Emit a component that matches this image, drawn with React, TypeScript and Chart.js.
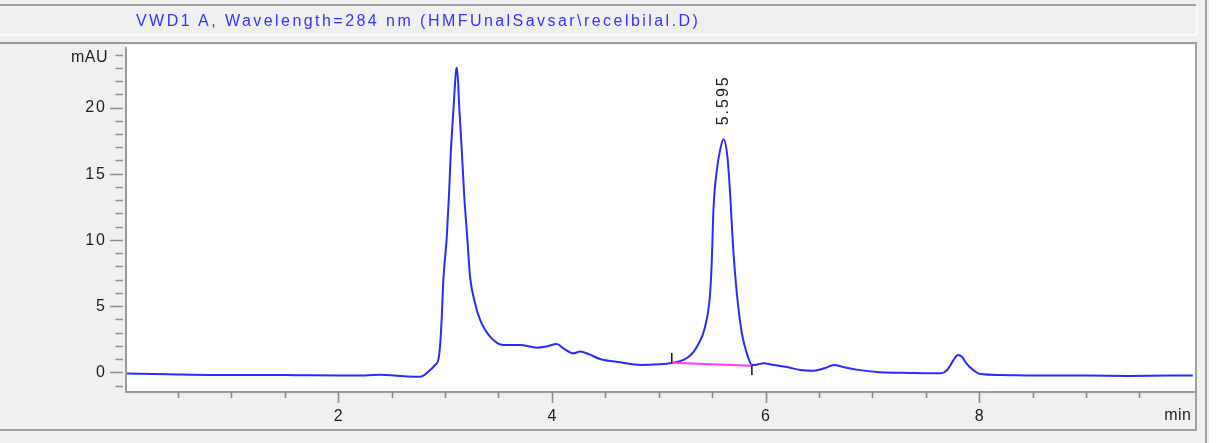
import React, { useEffect, useRef } from "react";
import { Chart, registerables } from "chart.js";

Chart.register(...registerables);

const W = 1227;
const H = 443;

const TITLE = "VWD1 A, Wavelength=284 nm (HMFUnalSavsar\\recelbilal.D)";
const X_UNIT = "min";
const Y_UNIT = "mAU";

// Chromatogram trace (retention time in min, signal in mAU)
const timeMin = [
  0.02, 0.4, 0.8, 1.2, 1.6, 2.0, 2.25, 2.4, 2.55, 2.7,
  2.77, 2.86, 2.906, 2.937, 2.955, 2.969, 2.984, 3.016, 3.037, 3.053, 3.078,
  3.103, 3.112, 3.134, 3.156, 3.178, 3.209, 3.234, 3.281, 3.328, 3.421,
  3.546, 3.7, 3.86, 3.95, 4.046, 4.108, 4.2, 4.264, 4.35, 4.45,
  4.64, 4.83, 5.0, 5.122, 5.231, 5.3, 5.357, 5.434, 5.481, 5.497,
  5.512, 5.544, 5.575, 5.606, 5.643, 5.668, 5.694, 5.731, 5.778, 5.825,
  5.872, 5.93, 5.98, 6.074, 6.2, 6.324, 6.45, 6.55, 6.64, 6.73,
  6.85, 7.07, 7.35, 7.64, 7.7, 7.76, 7.8, 7.84, 7.88, 7.94,
  8.01, 8.2, 8.63, 9.0, 9.4, 9.8, 10.0,
];
const signalMAU = [
  -0.1, -0.15, -0.2, -0.2, -0.22, -0.25, -0.25, -0.18, -0.27, -0.33,
  -0.33, 0.17, 0.55, 0.95, 2.2, 4.2, 7.0, 10.24, 13.5, 16.5, 19.8,
  22.8, 23.0, 19.8, 16.8, 13.5, 10.0, 7.2, 5.2, 3.95, 2.69,
  2.06, 2.06, 1.86, 1.95, 2.14, 1.81, 1.43, 1.56, 1.35, 1.0,
  0.75, 0.55, 0.6, 0.7, 0.93, 1.3, 1.93, 3.44, 5.97, 8.48,
  12.26, 15.28, 16.8, 17.6, 16.28, 13.52, 9.74, 5.97, 2.95, 1.43,
  0.55, 0.6, 0.68, 0.55, 0.4, 0.17, 0.12, 0.3, 0.55, 0.4,
  0.2, 0.0, -0.05, -0.08, 0.17, 0.93, 1.3, 1.15, 0.68, 0.2,
  -0.13, -0.2, -0.25, -0.25, -0.28, -0.25, -0.25,
];

// Integration baseline of the 5.595 peak
const baselineTime = [5.122, 5.872];
const baselineMAU = [0.72, 0.5];
const startTickTime = [5.122, 5.122];
const startTickMAU = [0.72, 1.45];
const endTickTime = [5.872, 5.872];
const endTickMAU = [0.5, -0.2];

// Peak annotation
const peakLabel = "5.595";
const peakLabelTime = 5.595;
const peakLabelMAU = 17.6;

// Axis ranges and ticks
const xRange = [0.013, 10.02];
const yRange = [-1.49, 24.57];
const xMajorTicks = [2, 4, 6, 8];
const xMinorTicks = [0.5, 1, 1.5, 2.5, 3, 3.5, 4.5, 5, 5.5, 6.5, 7, 7.5, 8.5, 9, 9.5];
const yMajorTicks = [0, 5, 10, 15, 20];
const yMinorTicks = [-1, 1, 2, 3, 4, 6, 7, 8, 9, 11, 12, 13, 14, 16, 17, 18, 19, 21, 22, 23, 24];

const pts = (xs: number[], ys: number[]) => xs.map((x, i) => ({ x, y: ys[i] }));

const FONT = '16px "Liberation Sans", Arial, sans-serif';

const framePlugin = {
  id: "frame",
  beforeDraw(chart: any) {
    const ctx = chart.ctx as CanvasRenderingContext2D;
    const { left, right, bottom } = chart.chartArea;
    ctx.save();
    ctx.fillStyle = "#f0f0f0";
    ctx.fillRect(0, 0, W, H);
    // right window edge
    ctx.fillStyle = "#ffffff";
    ctx.fillRect(1209, 0, W - 1209, H);
    ctx.fillStyle = "#a3a3a3";
    ctx.fillRect(1205, 0, 2, H);
    // header band
    ctx.fillStyle = "#efefef";
    ctx.fillRect(0, 6, 1196, 36);
    ctx.fillStyle = "#a0a0a0";
    ctx.fillRect(0, 4, 1196, 2);
    ctx.fillStyle = "#ffffff";
    ctx.fillRect(0, 34, 1197, 1.5);
    ctx.fillRect(1196, 6, 1.5, 29);
    ctx.fillStyle = "#9c9c9c";
    ctx.fillRect(0, 42, 1197, 2);
    // plot area
    ctx.fillStyle = "#ffffff";
    ctx.fillRect(left, 45, right - left, bottom - 45);
    // outer frame right and bottom
    ctx.fillStyle = "#a0a0a0";
    ctx.fillRect(right, 43, 2, 388);
    ctx.fillRect(0, 429, 1197, 2);
    ctx.restore();
  },
  afterDraw(chart: any) {
    const ctx = chart.ctx as CanvasRenderingContext2D;
    const xs = chart.scales.x;
    const ys = chart.scales.y;
    const { left, right, bottom } = chart.chartArea;
    ctx.save();
    // axis lines
    ctx.fillStyle = "#9a9a9a";
    ctx.fillRect(left - 1, 47, 2, bottom - 47 + 1);
    ctx.fillRect(left - 1, bottom - 1, right - left + 3, 2);
    // y ticks
    ctx.strokeStyle = "#8c8c8c";
    ctx.lineWidth = 1.6;
    ctx.beginPath();
    yMajorTicks.forEach((v) => {
      const y = Math.round(ys.getPixelForValue(v)) + 0.5;
      ctx.moveTo(110, y);
      ctx.lineTo(123, y);
    });
    yMinorTicks.forEach((v) => {
      const y = Math.round(ys.getPixelForValue(v)) + 0.5;
      ctx.moveTo(115.5, y);
      ctx.lineTo(123, y);
    });
    // x ticks
    xMajorTicks.forEach((v) => {
      const x = Math.round(xs.getPixelForValue(v)) + 0.5;
      ctx.moveTo(x, bottom);
      ctx.lineTo(x, bottom + 11);
    });
    xMinorTicks.forEach((v) => {
      const x = Math.round(xs.getPixelForValue(v)) + 0.5;
      ctx.moveTo(x, bottom);
      ctx.lineTo(x, bottom + 6);
    });
    ctx.stroke();

    // labels
    ctx.fillStyle = "#1e1e1e";
    ctx.font = FONT;
    (ctx as any).letterSpacing = "2px";
    ctx.textBaseline = "middle";
    ctx.textAlign = "right";
    yMajorTicks.forEach((v) => {
      ctx.fillText(String(v), 107, ys.getPixelForValue(v) + 0.5);
    });
    ctx.textAlign = "center";
    xMajorTicks.forEach((v) => {
      ctx.fillText(String(v), xs.getPixelForValue(v) + 1, 416.5);
    });
    // peak label, rotated
    ctx.save();
    ctx.translate(xs.getPixelForValue(peakLabelTime) + 1, ys.getPixelForValue(peakLabelMAU) - 14);
    ctx.rotate(-Math.PI / 2);
    ctx.textAlign = "left";
    ctx.fillText(peakLabel, 0, 0);
    ctx.restore();
    // units
    (ctx as any).letterSpacing = "0.5px";
    ctx.textAlign = "right";
    ctx.fillText(Y_UNIT, 108, 58);
    ctx.fillText(X_UNIT, 1191.5, 415.5);
    ctx.restore();
  },
};

export default function App() {
  const canvasRef = useRef<HTMLCanvasElement | null>(null);

  useEffect(() => {
    const canvas = canvasRef.current;
    if (!canvas) return;
    const chart = new Chart(canvas, {
      type: "line",
      data: {
        datasets: [
          {
            data: pts(startTickTime, startTickMAU),
            borderColor: "#111111",
            borderWidth: 1.5,
            pointRadius: 0,
            order: 0,
          },
          {
            data: pts(endTickTime, endTickMAU),
            borderColor: "#111111",
            borderWidth: 1.5,
            pointRadius: 0,
            order: 0,
          },
          {
            data: pts(baselineTime, baselineMAU),
            borderColor: "#ff3cff",
            borderWidth: 2,
            pointRadius: 0,
            order: 1,
          },
          {
            data: pts(timeMin, signalMAU),
            borderColor: "#2b2bff",
            borderWidth: 2,
            pointRadius: 0,
            cubicInterpolationMode: "monotone",
            order: 5,
          },
        ],
      } as any,
      options: {
        responsive: false,
        maintainAspectRatio: false,
        animation: false,
        devicePixelRatio: 1,
        events: [],
        layout: { padding: { left: 126, top: 47, right: W - 1195, bottom: H - 392 } },
        scales: {
          x: { type: "linear", min: xRange[0], max: xRange[1], display: false },
          y: { type: "linear", min: yRange[0], max: yRange[1], display: false },
        },
        plugins: {
          legend: { display: false },
          tooltip: { enabled: false },
          title: { display: false },
        },
      } as any,
      plugins: [framePlugin],
    });
    return () => chart.destroy();
  }, []);

  return (
    <div
      style={{
        position: "fixed",
        left: 0,
        top: 0,
        width: W,
        height: H,
        overflow: "hidden",
        background: "#f0f0f0",
      }}
    >
      <canvas
        ref={canvasRef}
        width={W}
        height={H}
        style={{ position: "absolute", left: 0, top: 0, width: W, height: H }}
      />
      <div
        style={{
          position: "absolute",
          left: 136,
          top: 13,
          font: FONT,
          lineHeight: "16px",
          letterSpacing: "2.45px",
          color: "#3333f5",
          whiteSpace: "nowrap",
        }}
      >
        {TITLE}
      </div>
    </div>
  );
}
